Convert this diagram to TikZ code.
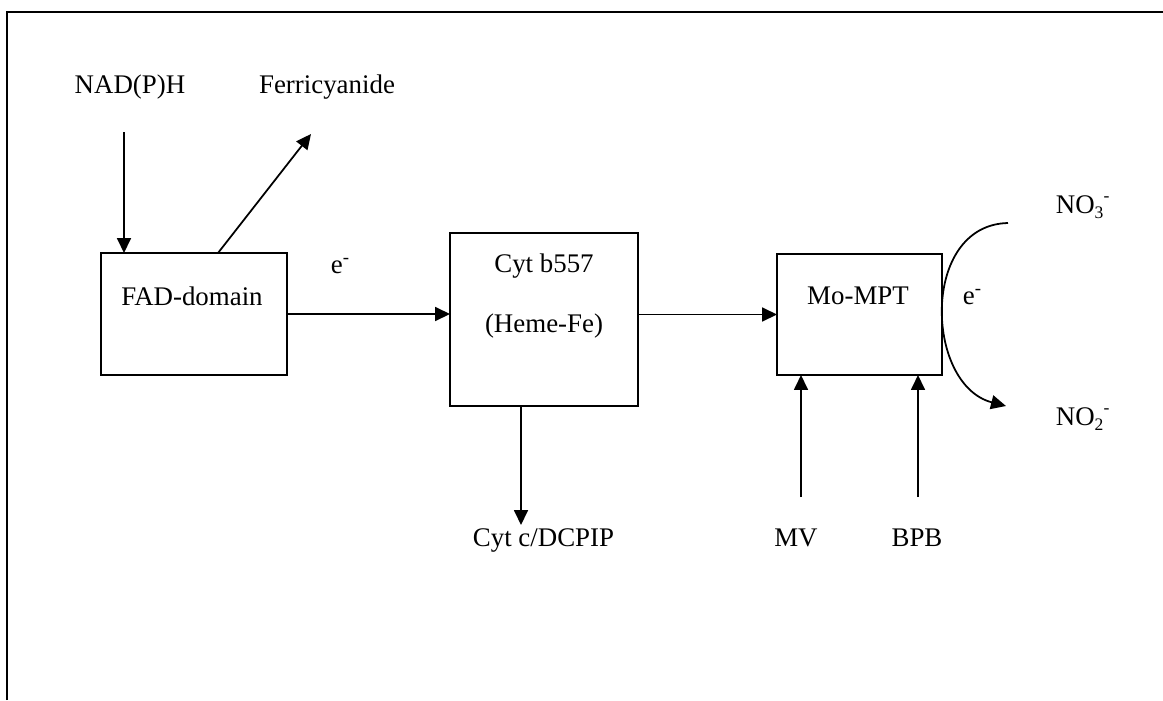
\documentclass[tikz,border=0pt]{standalone}
\usepackage{fontspec}
\setmainfont{Liberation Serif}
\usetikzlibrary{arrows.meta}

\newcommand{\ionsub}[1]{\raisebox{-0.45ex}{\fontsize{10}{12}\selectfont #1}\raisebox{0.9ex}{\fontsize{10}{12}\selectfont -}}

\tikzset{
    box/.style={draw, inner sep=0pt, outer sep=0pt},
    lbl/.style={anchor=base, inner sep=0pt},
    lblw/.style={anchor=base west, inner sep=0pt},
}

\begin{document}
\begin{tikzpicture}[x=0.02cm, y=-0.02cm, line width=1pt, >={Triangle[length=3mm,width=2.8mm]}, font=\fontsize{15.3}{18}\selectfont]
    \useasboundingbox (0,0) rectangle (1163,700);
    \draw (7,700) -- (7,12) -- (1163,12);

    \node[box, minimum width=3.72cm, minimum height=2.44cm] (fad) at (194,314) {};
    \node[box, minimum width=3.76cm, minimum height=3.46cm] (cyt) at (544,319.5) {};
    \node[box, minimum width=3.3cm, minimum height=2.42cm] (mo) at (859.5,314.5) {};

    \node[lbl] (fadtxt) at (192,305) {FAD-domain};
    \node[lbl] (cyttxt) at (544,272) {Cyt b557};
    \node[lbl] (hemetxt) at (544,332) {(Heme-Fe)};
    \node[lbl] (motxt) at (858,304) {Mo-MPT};

    \node[lbl] (nadph) at (130,93) {NAD(P)H};
    \node[lbl] (ferri) at (327,93) {Ferricyanide};
    \node[lblw] (e1) at (330,273) {e\textsuperscript{-}};
    \node[lblw] (e2) at (962,304) {e\textsuperscript{-}};
    \node[lblw] (dcpip) at (472,546) {Cyt c/DCPIP};
    \node[lbl] (mv) at (796,546) {MV};
    \node[lbl] (bpb) at (917,546) {BPB};
    \node[lblw] (no3) at (1055,213) {NO\ionsub{3}};
    \node[lblw] (no2) at (1055,425) {NO\ionsub{2}};

    \coordinate (nadtail) at (124,132);
    \coordinate (ferrtip) at (311,134);
    \coordinate (dcpiptip) at (521,525);
    \coordinate (mvtail) at (801,497);
    \coordinate (bpbtail) at (918,497);
    \coordinate (arcstart) at (1008,223);
    \coordinate (arcend) at (1006,406);

    \draw [->] (nadtail) -- (nadtail |- fad.north);
    \draw [->] ([xshift=0.48cm]fad.north) -- (ferrtip);
    \draw [->] (fad.east) -- (fad.east -| cyt.west);
    \draw [->] (mo.west -| cyt.east) -- (mo.west);
    \draw [->] ([xshift=-0.46cm]cyt.south) -- (dcpiptip);
    \draw [->] (mvtail) -- (mvtail |- mo.south);
    \draw [->] (bpbtail) -- (bpbtail |- mo.south);
    \draw [->] (arcstart) .. controls (920,225) and (925,385) .. (arcend);
\end{tikzpicture}
\end{document}
